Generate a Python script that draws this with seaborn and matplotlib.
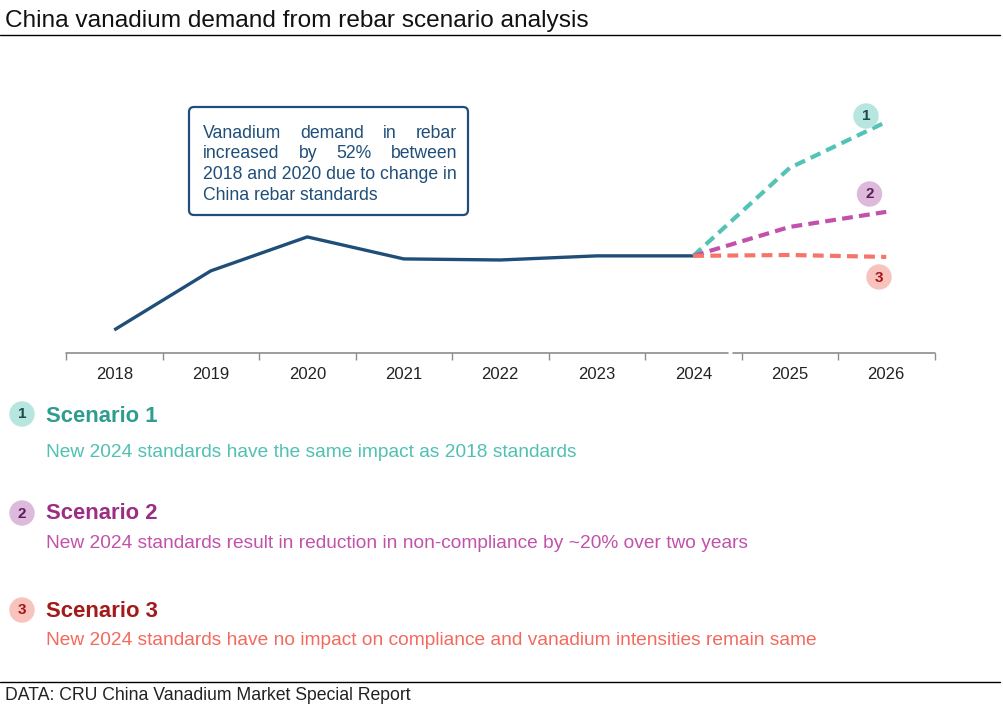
import matplotlib
matplotlib.use("Agg")
import matplotlib.pyplot as plt
from matplotlib.patches import Circle, FancyBboxPatch
import seaborn as sns
import pandas as pd

# ---------------- data ----------------
years = [2018, 2019, 2020, 2021, 2022, 2023, 2024, 2025, 2026]
hist_years = [2018, 2019, 2020, 2021, 2022, 2023, 2024]
hist_values = [100.0, 133.0, 152.0, 139.7, 139.1, 141.4, 141.4]
scen_years = [2024, 2025, 2026]
scen1 = [141.4, 190.6, 216.3]
scen2 = [141.4, 157.6, 166.0]
scen3 = [141.4, 141.9, 140.8]
tick_labels = [str(y) for y in years]

title = "China vanadium demand from rebar scenario analysis"
footer = "DATA: CRU China Vanadium Market Special Report"
box_lines = ["Vanadium demand in rebar", "increased by 52% between",
             "2018 and 2020 due to change in", "China rebar standards"]
scen_titles = ["Scenario 1", "Scenario 2", "Scenario 3"]
scen_desc = ["New 2024 standards have the same impact as 2018 standards",
             "New 2024 standards result in reduction in non-compliance by ~20% over two years",
             "New 2024 standards have no impact on compliance and vanadium intensities remain same"]

# colours
c_main = "#1F4E79"
line_cols = ["#52C3B5", "#C151AA", "#F4756A"]
head_cols = ["#2E9C8F", "#9B2E84", "#A31A1A"]
desc_cols = ["#4FC0B3", "#C152AA", "#F4695D"]
circ_fill = ["#B7E5E0", "#DDB9DC", "#F8C3BC"]
circ_num = ["#1E4B46", "#5B1F56", "#A3141A"]

sns.set_style("white")
plt.rcParams["font.family"] = ["Liberation Sans", "DejaVu Sans"]

W, H = 1004, 708
fig = plt.figure(figsize=(W / 100, H / 100), dpi=100)

# chart axes (pixel layout: x 66..934.5, y 60..353)
ax_l, ax_r, ax_t, ax_b = 66, 934.5, 60, 353
ax = fig.add_axes([ax_l / W, 1 - ax_b / H, (ax_r - ax_l) / W, (ax_b - ax_t) / H])
ax.set_facecolor("none")

df_hist = pd.DataFrame({"year": hist_years, "value": hist_values})
sns.lineplot(data=df_hist, x="year", y="value", ax=ax, color=c_main, lw=2.4,
             solid_capstyle="butt", zorder=3)
for vals, col in zip([scen1, scen2, scen3], line_cols):
    d = pd.DataFrame({"year": scen_years, "value": vals})
    sns.lineplot(data=d, x="year", y="value", ax=ax, color=col, lw=3.0,
                 linestyle=(0, (2.6, 1.5)), zorder=4)

ax.set_xlim(2017.5, 2026.5)
ax.set_ylim(87.1, 250.9)
ax.set_xlabel("")
ax.set_ylabel("")
ax.set_yticks([])
ax.set_xticks(years)
ax.set_xticklabels(tick_labels, fontsize=12, color="#222222")
ax.set_xticks([y - 0.5 for y in years] + [years[-1] + 0.5], minor=True)
ax.tick_params(axis="x", which="major", length=0, pad=10)
ax.tick_params(axis="x", which="minor", bottom=True, length=5, width=1,
               color="#8c8c8c", direction="out")
for s in ax.spines.values():
    s.set_visible(False)
# broken baseline
tr = ax.get_xaxis_transform()
ax.plot([2017.5, 2024.36], [0, 0], transform=tr, color="#8c8c8c", lw=1.2, clip_on=False)
ax.plot([2024.41, 2026.5], [0, 0], transform=tr, color="#8c8c8c", lw=1.2, clip_on=False)

# overlay axes in pixel coordinates
ov = fig.add_axes([0, 0, 1, 1], zorder=5)
ov.set_xlim(0, W)
ov.set_ylim(H, 0)
ov.axis("off")
ov.set_facecolor("none")

renderer = fig.canvas.get_renderer()


def fit(t, target):
    for _ in range(3):
        w = t.get_window_extent(renderer).width
        t.set_fontsize(t.get_fontsize() * target / w)
    return t


# title & rules
t = ov.text(5, 27, title, fontsize=18, color="#111111", va="baseline", ha="left")
fit(t, 585)
ov.plot([0, 1000], [35, 35], color="black", lw=1.0)
ov.plot([0, 1000], [682, 682], color="black", lw=1.0)
t = ov.text(5, 700, footer, fontsize=12, color="#222222", va="baseline", ha="left")
fit(t, 406)

# annotation box
ov.add_patch(FancyBboxPatch((189, 107), 279, 108,
                            boxstyle="round,pad=0,rounding_size=5",
                            fc="white", ec=c_main, lw=1.6, zorder=2))
ref = ov.text(203, 179, box_lines[2], fontsize=12, color=c_main, va="baseline", ha="left", zorder=3)
fit(ref, 254)
fs_box = ref.get_fontsize()
x0, x1 = 203, 457
base = [137.5, 158.2, 179, 199.5]
for i in (0, 1):
    words = box_lines[i].split()
    ts = [ov.text(0, base[i], wd, fontsize=fs_box, color=c_main, va="baseline",
                  ha="left", zorder=3) for wd in words]
    ws = [tt.get_window_extent(renderer).width for tt in ts]
    gap = (x1 - x0 - sum(ws)) / (len(words) - 1)
    x = x0
    for tt, w in zip(ts, ws):
        tt.set_x(x)
        x += w + gap
ov.text(203, base[3], box_lines[3], fontsize=fs_box, color=c_main, va="baseline",
        ha="left", zorder=3)

# chart scenario markers
chart_circ = [(866, 116), (869.5, 194), (879, 277)]
for i, (cx, cy) in enumerate(chart_circ):
    ov.add_patch(Circle((cx, cy), 12, color=circ_fill[i], zorder=3))
    ov.text(cx, cy + 0.5, str(i + 1), fontsize=11, fontweight="bold", color=circ_num[i],
            ha="center", va="center", zorder=4)

# scenario legend block
head_base = [422, 519, 617]
desc_base = [457, 548, 645]
circ_y = [414, 513, 610]
head_w = [111, 111, 112]
desc_w = [530, 702, 772]
for i in range(3):
    ov.add_patch(Circle((22, circ_y[i]), 12, color=circ_fill[i], zorder=3))
    ov.text(22, circ_y[i] + 0.5, str(i + 1), fontsize=11, fontweight="bold",
            color=circ_num[i], ha="center", va="center", zorder=4)
    th = ov.text(46, head_base[i], scen_titles[i], fontsize=15, fontweight="bold",
                 color=head_cols[i], va="baseline", ha="left")
    fit(th, head_w[i])
    td = ov.text(46, desc_base[i], scen_desc[i], fontsize=13, color=desc_cols[i],
                 va="baseline", ha="left")
    fit(td, desc_w[i])

fig.savefig("out.png", dpi=100)
